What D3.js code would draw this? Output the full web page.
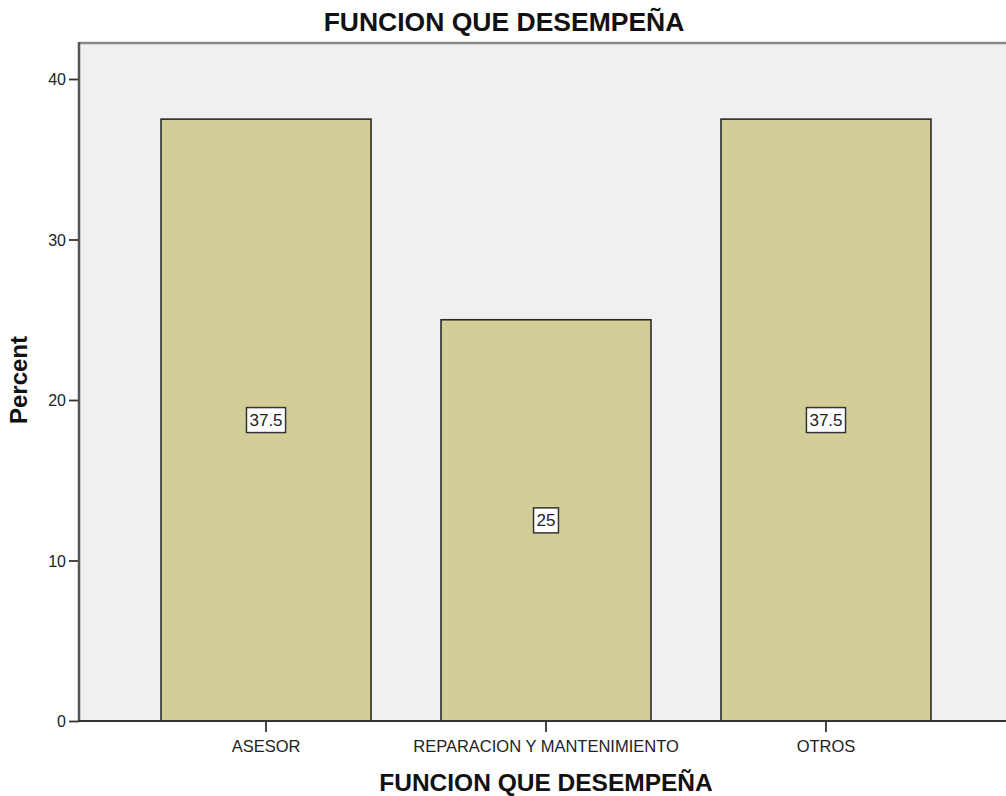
<!DOCTYPE html>
<html><head><meta charset="utf-8">
<script src="https://cdn.jsdelivr.net/npm/d3@7"></script>
<style>body{margin:0;background:#fff;} svg{display:block;font-family:"Liberation Sans",Arial,sans-serif;}</style>
</head><body>
<script>
const categories = ["ASESOR", "REPARACION Y MANTENIMIENTO", "OTROS"];
const percents = [37.5, 25, 37.5];
const valueLabels = ["37.5", "25", "37.5"];
const yTicks = [0, 10, 20, 30, 40];
const chartTitle = "FUNCION QUE DESEMPEÑA";
const xTitle = "FUNCION QUE DESEMPEÑA";
const yTitle = "Percent";

(function () {
const W = 1006, H = 796;
const pL = 79, pR = 1013, pT = 43, pB = 721;
const FONT = "Liberation Sans, Arial, sans-serif";
const svg = d3.select("body").append("svg").attr("width", W).attr("height", H);

const x = d3.scaleBand().domain(categories).range([pL, pR]).paddingInner(0.25).paddingOuter(0.293);
const y = d3.scaleLinear().domain([0, 40]).range([pB, 79]);

svg.append("rect").attr("x", pL).attr("y", pT).attr("width", pR - pL).attr("height", pB - pT)
  .attr("fill", "#f0f0f0");
svg.append("line").attr("x1", pL).attr("x2", pR).attr("y1", pT).attr("y2", pT)
  .attr("stroke", "#888").attr("stroke-width", 2.5);

svg.selectAll("rect.bar").data(categories).enter().append("rect").attr("class", "bar")
  .attr("x", d => x(d)).attr("width", x.bandwidth())
  .attr("y", (d, i) => y(percents[i])).attr("height", (d, i) => y(0) - y(percents[i]))
  .attr("fill", "#d3ce97").attr("stroke", "#2b2b2b").attr("stroke-width", 1.6);

categories.forEach((c, i) => {
  const cx = x(c) + x.bandwidth() / 2, cy = y(percents[i] / 2);
  const g = svg.append("g");
  const t = g.append("text").attr("x", cx).attr("y", cy + 6).attr("text-anchor", "middle")
    .attr("font-size", 17).attr("fill", "#222").text(valueLabels[i]);
  const bb = t.node().getBBox();
  g.insert("rect", "text").attr("x", bb.x - 3).attr("y", cy - 12.5).attr("width", bb.width + 6).attr("height", 25)
    .attr("fill", "#fff").attr("stroke", "#333").attr("stroke-width", 1.5);
});

const yAxis = svg.append("g").attr("transform", `translate(${pL},0)`)
  .call(d3.axisLeft(y).tickValues(yTicks).tickSize(10).tickPadding(3));
yAxis.select(".domain").remove();
yAxis.selectAll(".tick line").attr("stroke", "#333").attr("stroke-width", 1.8);
yAxis.selectAll(".tick text").attr("font-size", 16).attr("fill", "#222").attr("font-family", FONT).attr("dy", "0.36em");
svg.append("line").attr("x1", pL).attr("x2", pL).attr("y1", pT - 1).attr("y2", pB + 1)
  .attr("stroke", "#555").attr("stroke-width", 2.5);

const xAxis = svg.append("g").attr("transform", `translate(0,${pB})`)
  .call(d3.axisBottom(x).tickSize(11));
xAxis.select(".domain").remove();
xAxis.selectAll(".tick line").attr("stroke", "#333").attr("stroke-width", 1.8);
xAxis.selectAll(".tick text").attr("font-size", 16.5).attr("fill", "#222").attr("font-family", FONT)
  .attr("y", 31).attr("dy", null);
svg.append("line").attr("x1", pL - 1).attr("x2", pR).attr("y1", pB).attr("y2", pB)
  .attr("stroke", "#333").attr("stroke-width", 2.2);

svg.append("text").attr("x", 504).attr("y", 31).attr("text-anchor", "middle")
  .attr("font-size", 26.5).attr("font-weight", "bold").attr("fill", "#111").text(chartTitle);
svg.append("text").attr("x", 546).attr("y", 791).attr("text-anchor", "middle")
  .attr("font-size", 24.5).attr("font-weight", "bold").attr("fill", "#111").text(xTitle);
svg.append("text").attr("transform", "translate(27,380) rotate(-90)").attr("text-anchor", "middle")
  .attr("font-size", 24).attr("font-weight", "bold").attr("fill", "#111").text(yTitle);
})();
</script>
</body></html>
